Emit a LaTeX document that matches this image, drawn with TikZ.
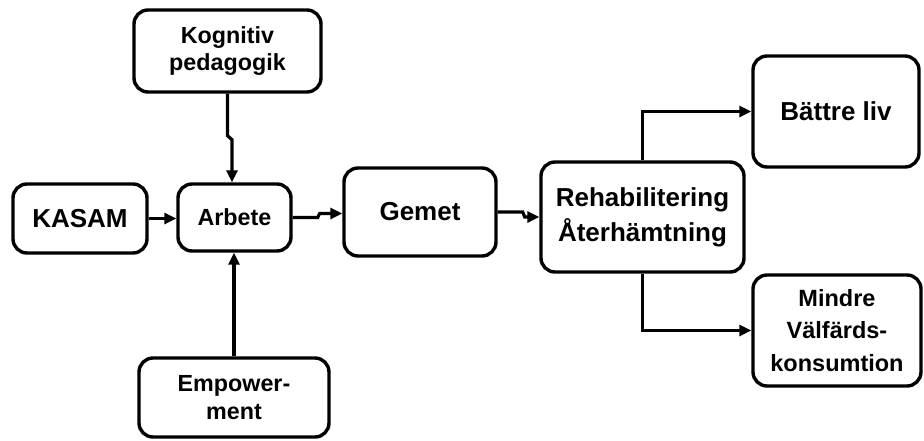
\documentclass[tikz,border=0pt]{standalone}
\usepackage{fontspec}
\setmainfont{Liberation Sans}
\usetikzlibrary{arrows.meta}
\begin{document}
\begin{tikzpicture}[x=1pt,y=-1pt,
  box/.style={draw=black, line width=3.4pt, rounded corners=14pt, fill=white,
    align=center, inner sep=0pt, font=\bfseries},
  bigtxt/.style={font=\fontsize{26}{35}\selectfont\bfseries},
  smalltxt/.style={font=\fontsize{23.3}{27}\selectfont\bfseries},
  conn/.style={draw=black, line width=3.2pt, -{Triangle[length=12pt,width=11pt]}}
]
\useasboundingbox (0,0) rectangle (924,440);

% boxes
\node[box, smalltxt, minimum width=187pt, minimum height=82pt] (kog) at (227.5,51) {Kognitiv\\pedagogik};
\node[box, smalltxt, minimum width=113pt, minimum height=67pt] (arb) at (234.5,217.5) {Arbete};
\node[box, bigtxt, minimum width=134pt, minimum height=69pt] (kas) at (80,218.5) {\raisebox{-2pt}{KASAM}};
\node[box, smalltxt, font=\fontsize{23.3}{28}\selectfont\bfseries, minimum width=190pt, minimum height=79pt] (emp) at (234,397.5) {Empower-\\ment};
\node[box, bigtxt, minimum width=152pt, minimum height=88pt] (gem) at (420,212) {\raisebox{-2pt}{Gemet}};
\node[box, bigtxt, minimum width=203pt, minimum height=110pt] (reh) at (642.5,217) {Rehabilitering\\Återhämtning};
\node[box, bigtxt, minimum width=166pt, minimum height=111pt] (bat) at (836,111.5) {Bättre liv};
\node[box, font=\fontsize{23.5}{32.5}\selectfont\bfseries, minimum width=168pt, minimum height=111pt] (min) at (837,330.5) {Mindre\\Välfärds-\\konsumtion};

% connectors
\draw[conn] (kog.south) -- ++(0,42) -- ++(4.5,4) coordinate (k1) -- (k1 |- arb.north);
\draw[conn] (kas.east) -- (kas.east -| arb.west);
\draw[conn] (emp.north) -- (emp.north |- arb.south);
\draw[conn] (arb.east) -- ++(25,0) -- ++(2,-4) coordinate (a1) -- (a1 -| gem.west);
\draw[conn] (gem.east) -- ++(25,0) -- ++(2,5) coordinate (g1) -- (g1 -| reh.west);
\draw[conn] (reh.north) |- (bat.west);
\draw[conn] (reh.south) |- (min.west);
\end{tikzpicture}
\end{document}
